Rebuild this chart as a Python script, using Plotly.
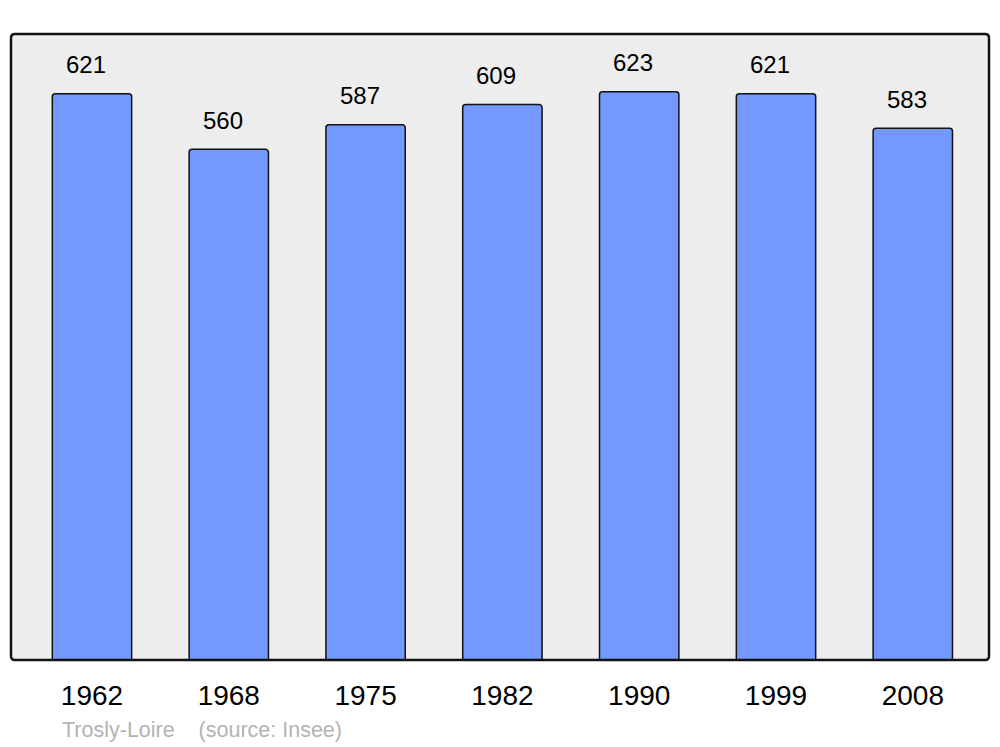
import plotly.graph_objects as go

years = ["1962", "1968", "1975", "1982", "1990", "1999", "2008"]
population = [621, 560, 587, 609, 623, 621, 583]
source_text = "Trosly-Loire    (source: Insee)"

W, H = 1000, 747
ml, mr, mt, mb = 11, 11, 34, 87
pw, ph = W - ml - mr, H - mt - mb

xpos = list(range(len(years)))

fig = go.Figure()
fig.add_trace(go.Bar(
    x=xpos, y=population, width=0.58,
    marker=dict(color="#7399ff", line=dict(color="#111111", width=1.5)),
    hoverinfo="skip",
))

for xi, v in zip(xpos, population):
    fig.add_annotation(x=xi, y=v, text=str(v), showarrow=False,
                       xanchor="center", yanchor="middle", yshift=29, xshift=-6,
                       font=dict(family="Liberation Sans, Arial, sans-serif", size=24, color="#000000"))

fig.add_annotation(x=(60 - ml) / pw, y=-(730 - (H - mb)) / ph, xref="paper", yref="paper",
                   text=source_text.replace("    ", "&nbsp;&nbsp;&nbsp;&nbsp;"), showarrow=False,
                   xanchor="left", yanchor="middle",
                   font=dict(family="Liberation Sans, Arial, sans-serif", size=21.5, color="#b3b3b3"))

# rounded border of plot area
r = 4
rx, ry = r / pw, r / ph
path = (f"M {rx},0 L {1-rx},0 Q 1,0 1,{ry} L 1,{1-ry} Q 1,1 {1-rx},1 "
        f"L {rx},1 Q 0,1 0,{1-ry} L 0,{ry} Q 0,0 {rx},0 Z")
fig.add_shape(type="path", path=path, xref="paper", yref="paper",
              line=dict(color="#111111", width=2.5), layer="above")

fig.update_layout(
    width=W, height=H,
    margin=dict(l=ml, r=mr, t=mt, b=mb),
    paper_bgcolor="#ffffff", plot_bgcolor="#ededed",
    showlegend=False, barcornerradius=3,
    font=dict(family="Liberation Sans, Arial, sans-serif"),
)
fig.update_xaxes(range=[-0.592, 6.557], tickvals=xpos, ticktext=years,
                 ticks="outside", ticklen=10, tickcolor="rgba(0,0,0,0)",
                 showgrid=False, zeroline=False, showline=False,
                 tickfont=dict(size=28, color="#000000"), fixedrange=True)
fig.update_yaxes(range=[0, 686.4], showticklabels=False, showgrid=False,
                 zeroline=False, showline=False, fixedrange=True)

fig.write_html("out.html", config={"displayModeBar": False},
               post_script="document.body.style.margin='0';document.body.style.overflow='hidden';")
